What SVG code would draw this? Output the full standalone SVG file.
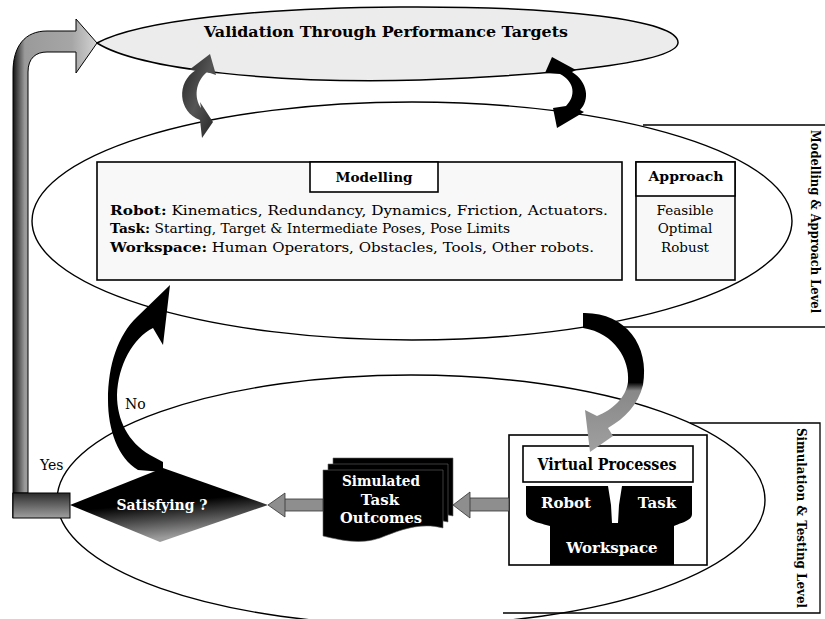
<svg xmlns="http://www.w3.org/2000/svg" width="825" height="619" viewBox="0 0 825 619">
  <defs>
    <linearGradient id="pipeGrad" gradientUnits="userSpaceOnUse" x1="13" y1="0" x2="97" y2="0">
      <stop offset="0" stop-color="#111"/>
      <stop offset="0.05" stop-color="#444"/>
      <stop offset="0.14" stop-color="#9a9a9a"/>
      <stop offset="0.7" stop-color="#a6a6a6"/>
      <stop offset="1" stop-color="#d4d4d4"/>
    </linearGradient>
    <linearGradient id="baseGrad" x1="0" y1="0" x2="0" y2="1">
      <stop offset="0" stop-color="#2a2a2a"/>
      <stop offset="0.35" stop-color="#555"/>
      <stop offset="1" stop-color="#a0a0a0"/>
    </linearGradient>
    <linearGradient id="diamondGrad" x1="0" y1="0" x2="0.25" y2="1">
      <stop offset="0" stop-color="#000"/>
      <stop offset="0.55" stop-color="#000"/>
      <stop offset="1" stop-color="#9c9c9c"/>
    </linearGradient>
    <linearGradient id="loopGrad" gradientUnits="userSpaceOnUse" x1="0" y1="313" x2="0" y2="452">
      <stop offset="0" stop-color="#000"/>
      <stop offset="0.5" stop-color="#000"/>
      <stop offset="0.56" stop-color="#888"/>
      <stop offset="1" stop-color="#a0a0a0"/>
    </linearGradient>
    <linearGradient id="cGrad" x1="0" y1="0" x2="1" y2="1">
      <stop offset="0" stop-color="#222"/>
      <stop offset="0.5" stop-color="#555"/>
      <stop offset="1" stop-color="#222"/>
    </linearGradient>
    <style>
      .serif { font-family: "DejaVu Serif", "Liberation Serif", serif; }
      .bold { font-weight: bold; }
      .outline { fill: none; stroke: #000; stroke-width: 1.4; }
      .box { stroke: #000; stroke-width: 1.6; }
      .frame { fill: none; stroke: #000; stroke-width: 1.3; }
      .white { fill: #fff; }
      .lbl { font-size: 13.5px; fill: #000; }
      .small-arrow { fill: #8e8e8e; stroke: #333; stroke-width: 0.8; }
    </style>
  </defs>

  <rect width="825" height="619" fill="#fff"/>

  <!-- level frames -->
  <g id="frames">
    <path class="frame" d="M643 125 H825 M583 327 H825"/>
    <path class="frame" d="M690 423 H820 V613 H503"/>
    <text class="serif bold" font-size="12" transform="translate(811,130) rotate(90)" textLength="183" lengthAdjust="spacingAndGlyphs">Modelling &amp; Approach Level</text>
    <text class="serif bold" font-size="12" transform="translate(797,428) rotate(90)" textLength="180" lengthAdjust="spacingAndGlyphs">Simulation &amp; Testing Level</text>
  </g>

  <!-- validation level: leaf-shaped outline, pointed at the left -->
  <g id="validation">
    <path fill="#ececec" stroke="#000" stroke-width="1.5" d="M97 43 C140 20 260 8 400 7 C560 6 680 20 678 43 C676 62 560 75 420 80 C280 84 140 70 97 43 Z"/>
    <text class="serif bold" x="386" y="37" font-size="15" text-anchor="middle" textLength="364" lengthAdjust="spacingAndGlyphs">Validation Through Performance Targets</text>
  </g>

  <!-- modelling & approach level -->
  <g id="modelling-level">
    <ellipse class="outline" cx="412" cy="221" rx="380" ry="119"/>
  </g>

  <g id="modelling">
    <rect class="box" x="97" y="162" width="525" height="118" fill="#f8f8f8"/>
    <rect class="box" x="310" y="162" width="128" height="30" fill="#fff"/>
    <text class="serif bold" x="374" y="182" font-size="13" text-anchor="middle" textLength="77" lengthAdjust="spacingAndGlyphs">Modelling</text>
    <text class="serif lbl" x="110" y="215" textLength="498" lengthAdjust="spacingAndGlyphs"><tspan class="bold">Robot:</tspan> Kinematics, Redundancy, Dynamics, Friction, Actuators.</text>
    <text class="serif lbl" x="110" y="233" textLength="400" lengthAdjust="spacingAndGlyphs"><tspan class="bold">Task:</tspan> Starting, Target &amp; Intermediate Poses, Pose Limits</text>
    <text class="serif lbl" x="110" y="252" textLength="484" lengthAdjust="spacingAndGlyphs"><tspan class="bold">Workspace:</tspan> Human Operators, Obstacles, Tools, Other robots.</text>
  </g>

  <g id="approach">
    <rect class="box" x="636" y="162" width="99" height="118" fill="#f8f8f8"/>
    <rect class="box" x="636" y="162" width="99" height="34" fill="#fff"/>
    <text class="serif bold" x="686" y="181" font-size="13" text-anchor="middle" textLength="75" lengthAdjust="spacingAndGlyphs">Approach</text>
    <text class="serif lbl" x="685" y="215" text-anchor="middle">Feasible</text>
    <text class="serif lbl" x="685" y="233" text-anchor="middle">Optimal</text>
    <text class="serif lbl" x="685" y="252" text-anchor="middle">Robust</text>
  </g>

  <!-- simulation & testing level -->
  <g id="simulation-level">
    <ellipse class="outline" cx="411" cy="500" rx="354" ry="125"/>
  </g>

  <g id="virtual-processes">
    <rect class="box" x="509" y="435" width="198" height="130" fill="#fff"/>
    <rect class="box" x="523" y="446" width="170" height="36" fill="#fff"/>
    <text class="serif bold" x="607" y="470" font-size="16" text-anchor="middle" textLength="139" lengthAdjust="spacingAndGlyphs">Virtual Processes</text>
    <path fill="#000" d="M526 486 H608 L611 505 L612 523 H618 L619 505 L622 486 H692 V514 C692 521 680 523 674 526 V565 H550 V526 C540 523 527 521 526 514 Z"/>
    <text class="serif bold white" x="566" y="508" font-size="15" text-anchor="middle">Robot</text>
    <text class="serif bold white" x="657" y="508" font-size="15" text-anchor="middle">Task</text>
    <text class="serif bold white" x="612" y="553" font-size="15" text-anchor="middle">Workspace</text>
  </g>

  <g id="simulated-outcomes">
    <path fill="#000" stroke="#666" stroke-width="0.6" d="M333 458 H453 V516 C430 510 410 518 390 526 C370 533 350 528 333 524 Z"/>
    <path fill="#000" stroke="#666" stroke-width="0.6" d="M328 464 H448 V522 C425 516 405 524 385 532 C365 539 345 534 328 530 Z"/>
    <path fill="#000" stroke="#666" stroke-width="0.6" d="M323 470 H443 V528 C420 522 400 530 380 538 C360 545 340 540 323 536 Z"/>
    <text class="serif bold white" x="381" y="486" font-size="15" text-anchor="middle" textLength="78" lengthAdjust="spacingAndGlyphs">Simulated</text>
    <text class="serif bold white" x="380" y="505" font-size="15" text-anchor="middle">Task</text>
    <text class="serif bold white" x="381" y="523" font-size="15" text-anchor="middle" textLength="82" lengthAdjust="spacingAndGlyphs">Outcomes</text>
  </g>

  <g id="decision">
    <polygon fill="url(#diamondGrad)" points="70,505 163,468 268,505 160,542"/>
    <text class="serif bold white" x="162" y="510" font-size="14" text-anchor="middle" textLength="91" lengthAdjust="spacingAndGlyphs">Satisfying ?</text>
  </g>

  <!-- connectors -->
  <g id="connectors">
    <!-- Yes: return pipe up to the validation level -->
    <path fill="url(#pipeGrad)" stroke="#000" stroke-width="1" d="M13 518 V72 C13 46 25 31 47 31 H76 V19 L97 43 L76 73 V52 H47 C36 52 28 58 28 72 V493 H13 Z"/>
    <rect x="13" y="493" width="57" height="25" fill="url(#baseGrad)" stroke="#000" stroke-width="1"/>

    <!-- validation / modelling iteration loops -->
    <path fill="url(#cGrad)" d="M210 54 L216 75 L207 72 C195 82 194 98 201 108 L200 102 L213 122 L202 138 L200 120 C178 112 176 82 196 70 L189 70 Z"/>
    <path fill="#000" d="M552 57 L576 70 L572 72 C588 82 590 100 580 110 L584 112 L557 128 L553 108 L566 106 C576 96 575 82 560 74 L545 73 Z"/>

    <!-- modelling to virtual processes -->
    <path fill="url(#loopGrad)" d="M583 328 C615 333 630 360 628 382 C626 398 612 410 597 416 L585 410 L590 452 L613 436 L608 428 C625 418 638 405 643 385 C650 345 625 312 583 313 Z"/>

    <!-- No: back to modelling -->
    <path fill="#000" d="M170 285 L163 345 L153 328 C133 338 118 365 117 395 C117 420 128 442 150 455 L163 462 V472 L138 470 C118 458 108 430 108 400 C108 365 118 335 137 317 Z"/>

    <!-- virtual processes to simulated outcomes -->
    <rect class="small-arrow" x="469" y="498" width="40" height="13"/>
    <polygon class="small-arrow" points="453,505 470,492 470,518"/>
    <!-- simulated outcomes to decision -->
    <rect class="small-arrow" x="284" y="499" width="39" height="12"/>
    <polygon class="small-arrow" points="268,505 285,493 285,517"/>
  </g>

  <g id="branch-labels">
    <text class="serif" x="125" y="409" font-size="14">No</text>
    <text class="serif" x="40" y="470" font-size="14">Yes</text>
  </g>
</svg>
